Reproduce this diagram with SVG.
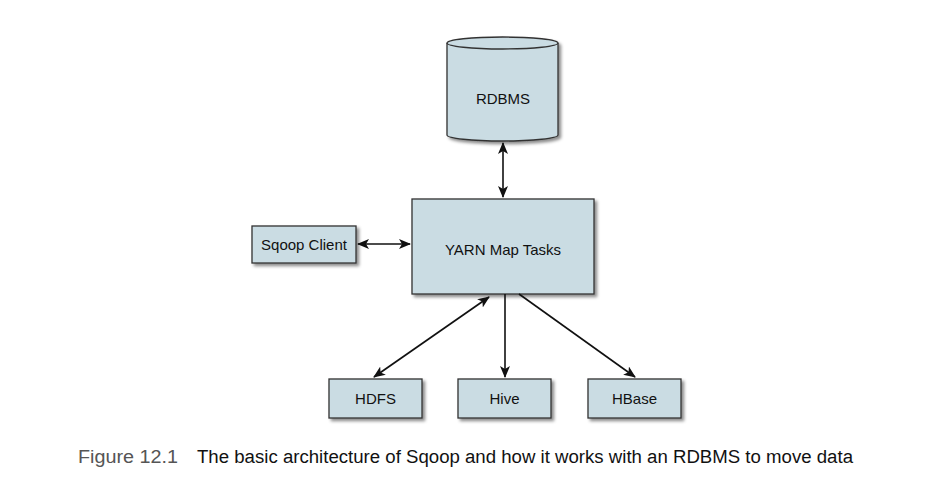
<svg xmlns="http://www.w3.org/2000/svg" width="934" height="494" viewBox="0 0 934 494">
<defs>
<filter id="sh" x="-10%" y="-10%" width="130%" height="130%">
<feDropShadow dx="2.5" dy="2.5" stdDeviation="1.5" flood-color="#000" flood-opacity="0.45"/>
</filter>
<marker id="ah" viewBox="0 0 12 10" refX="11" refY="5" markerWidth="12" markerHeight="10" markerUnits="userSpaceOnUse" orient="auto-start-reverse">
<path d="M0,0 L12,5 L0,10 L3,5 Z" fill="#111"/>
</marker>
</defs>
<style>
.box{fill:#cadce3;stroke:#333;stroke-width:1.3;filter:url(#sh)}
.lbl{font-family:"Liberation Sans",Arial,sans-serif;font-size:15px;fill:#111;text-anchor:middle}
.con{stroke:#111;stroke-width:1.6;fill:none}
.cap{font-family:"Liberation Sans",Arial,sans-serif;font-size:18px}
</style>
<rect width="934" height="494" fill="#fff"/>
<g id="rdbms">
<path class="box" d="M447,43 A55.5,6 0 0 1 558,43 L558,135 A55.5,6 0 0 1 447,135 Z"/>
<path d="M447,43 A55.5,6 0 0 0 558,43" fill="none" stroke="#333" stroke-width="1.3"/>
<text class="lbl" x="503" y="104">RDBMS</text>
</g>
<g id="yarn">
<rect class="box" x="412" y="199" width="182" height="95"/>
<text class="lbl" x="503" y="255">YARN Map Tasks</text>
</g>
<g id="sqoop">
<rect class="box" x="252" y="226" width="104" height="37"/>
<text class="lbl" x="304" y="250">Sqoop Client</text>
</g>
<g id="hdfs">
<rect class="box" x="329" y="379" width="93" height="39"/>
<text class="lbl" x="375.5" y="404">HDFS</text>
</g>
<g id="hive">
<rect class="box" x="458" y="379" width="93" height="39"/>
<text class="lbl" x="504.5" y="404">Hive</text>
</g>
<g id="hbase">
<rect class="box" x="588" y="379" width="93" height="39"/>
<text class="lbl" x="634.5" y="404">HBase</text>
</g>
<g id="connectors">
<line class="con" x1="503" y1="143" x2="503" y2="197" marker-start="url(#ah)" marker-end="url(#ah)"/>
<line class="con" x1="358" y1="244" x2="410" y2="244" marker-start="url(#ah)" marker-end="url(#ah)"/>
<line class="con" x1="374" y1="377" x2="489" y2="297" marker-start="url(#ah)" marker-end="url(#ah)"/>
<line class="con" x1="505" y1="294" x2="505" y2="377" marker-end="url(#ah)"/>
<line class="con" x1="519" y1="294" x2="635" y2="377" marker-end="url(#ah)"/>
</g>
<text class="cap" y="463"><tspan x="78" fill="#555" textLength="100" lengthAdjust="spacingAndGlyphs">Figure 12.1</tspan><tspan x="197" fill="#111" textLength="656" lengthAdjust="spacingAndGlyphs">The basic architecture of Sqoop and how it works with an RDBMS to move data</tspan></text>
</svg>
